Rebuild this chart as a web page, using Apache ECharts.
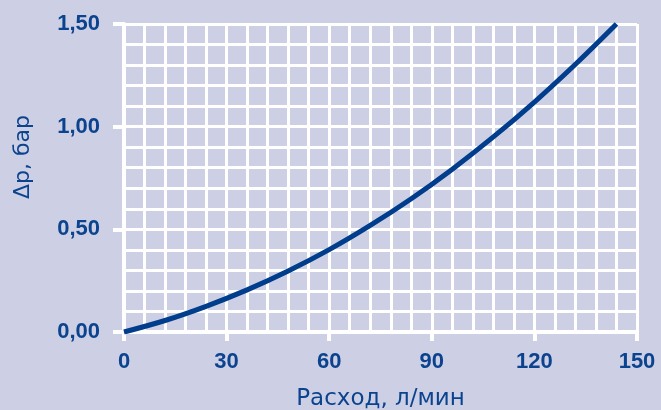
<!DOCTYPE html>
<html>
<head>
<meta charset="utf-8">
<script src="https://cdn.jsdelivr.net/npm/echarts@6/dist/echarts.min.js"></script>
<style>
  html, body { margin: 0; padding: 0; background: #cdd0e4; overflow: hidden; }
  #chart { width: 661px; height: 410px; }
</style>
</head>
<body>
<div id="chart"></div>
<script>
// Flow rate, l/min
const flowRate = [0, 12, 24, 36, 48, 60, 72, 84, 96, 108, 120, 132, 144];
// Pressure drop, bar
const pressureDrop = [0, 0.056, 0.125, 0.205, 0.297, 0.401, 0.519, 0.649, 0.793, 0.950, 1.120, 1.304, 1.500];

const xTicks = [0, 30, 60, 90, 120, 150];
const yTicks = [0, 0.5, 1.0, 1.5];

const ink = '#0b438f';
const gridWhite = '#ffffff';
const tickFont = 'Liberation Sans, Arial, Helvetica, sans-serif';
const nameFont = 'DejaVu Sans, Verdana, sans-serif';

const chart = echarts.init(document.getElementById('chart'), null, { renderer: 'canvas', width: 661, height: 410 });

chart.setOption({
  backgroundColor: '#cdd0e4',
  animation: false,
  grid: {
    left: 124, right: 24, top: 24, bottom: 78,
    containLabel: false,
    outerBoundsMode: 'none'
  },
  xAxis: {
    type: 'value',
    min: xTicks[0],
    max: xTicks[xTicks.length - 1],
    interval: xTicks[1] - xTicks[0],
    name: 'Расход, л/мин',
    nameLocation: 'middle',
    nameGap: 56,
    nameTextStyle: { color: ink, fontSize: 23, fontFamily: nameFont },
    axisLine: { show: true, lineStyle: { color: gridWhite, width: 4 } },
    axisTick: { show: true, length: 9, lineStyle: { color: gridWhite, width: 4 } },
    axisLabel: { color: ink, fontSize: 22, fontWeight: 'bold', fontFamily: tickFont, margin: 19 },
    splitLine: { show: true, lineStyle: { color: gridWhite, width: 3 } },
    minorTick: { show: false, splitNumber: 5 },
    minorSplitLine: { show: true, lineStyle: { color: gridWhite, width: 3 } }
  },
  yAxis: {
    type: 'value',
    min: yTicks[0],
    max: yTicks[yTicks.length - 1],
    interval: yTicks[1] - yTicks[0],
    name: 'Δp, бар',
    nameLocation: 'middle',
    nameGap: 90,
    nameRotate: 90,
    nameTextStyle: { color: ink, fontSize: 22, fontFamily: nameFont, padding: [0, 0, 0, 42] },
    axisLine: { show: true, lineStyle: { color: gridWhite, width: 4 } },
    axisTick: { show: true, length: 11, lineStyle: { color: gridWhite, width: 4 } },
    axisLabel: {
      color: ink, fontSize: 22, fontWeight: 'bold', fontFamily: tickFont, margin: 24,
      formatter: v => v.toFixed(2).replace('.', ',')
    },
    splitLine: { show: true, lineStyle: { color: gridWhite, width: 3 } },
    minorTick: { show: false, splitNumber: 5 },
    minorSplitLine: { show: true, lineStyle: { color: gridWhite, width: 3 } }
  },
  series: [{
    type: 'line',
    data: flowRate.map((q, i) => [q, pressureDrop[i]]),
    smooth: 0.35,
    showSymbol: false,
    lineStyle: { color: '#003d8c', width: 5, cap: 'butt' },
    z: 5
  }]
});
</script>
</body>
</html>
